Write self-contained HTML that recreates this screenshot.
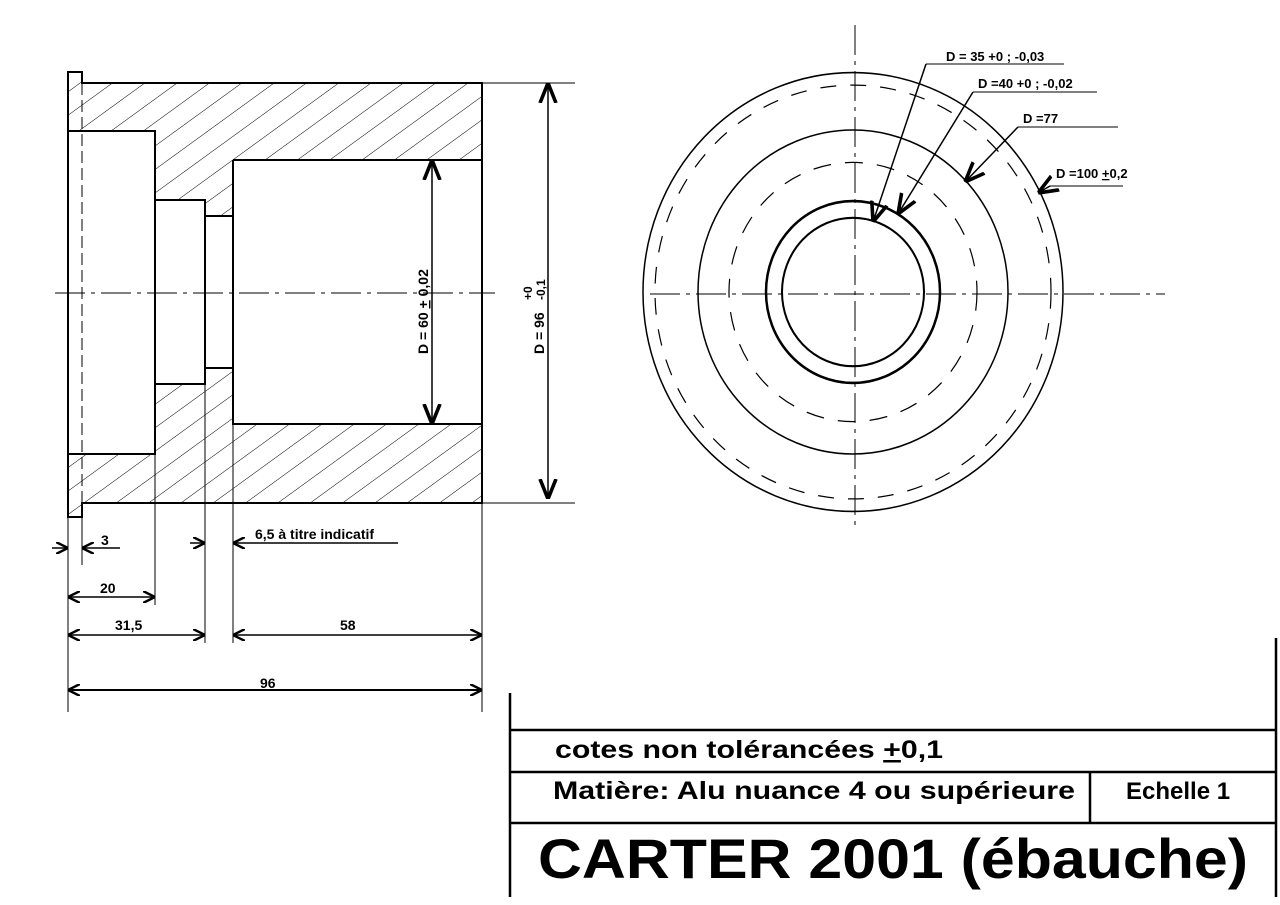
<!DOCTYPE html>
<html><head><meta charset="utf-8"><style>html,body{margin:0;padding:0;background:#fff}svg{display:block}</style></head>
<body>
<svg width="1280" height="905" viewBox="0 0 1280 905" xmlns="http://www.w3.org/2000/svg" font-family="Liberation Sans, Arial, sans-serif">
<defs>
<pattern id="h" patternUnits="userSpaceOnUse" width="19" height="19" patternTransform="rotate(54)">
<line x1="0" y1="0" x2="0" y2="19" stroke="#000" stroke-width="1"/>
</pattern>
<marker id="a" viewBox="0 0 10 10" refX="10" refY="5" markerWidth="12" markerHeight="12" markerUnits="userSpaceOnUse" orient="auto-start-reverse"><path d="M0,0 L10,5 L0,10" fill="none" stroke="#000" stroke-width="2"/></marker>
<marker id="b" viewBox="0 0 10 10" refX="10" refY="5" markerWidth="20" markerHeight="20" markerUnits="userSpaceOnUse" orient="auto-start-reverse"><path d="M0,1 L10,5 L0,9" fill="none" stroke="#000" stroke-width="1.8"/></marker>
</defs>
<path fill="url(#h)" fill-rule="evenodd" d="M68,72 H82 V83 H482 V503 H82 V517 H68 Z M68,131 H155 V200 H205 V216 H233 V160 H482 V424 H233 V368 H205 V384 H155 V454 H68 Z"/>
<g stroke="#000" stroke-width="2" fill="none">
<path d="M68,72 H82 V83 H482 V503 H82 V517 H68 Z"/>
<path d="M68,131 H155 V454 H68"/>
<path d="M155,200 H205 V384 H155"/>
<path d="M205,216 H233 M205,368 H233"/>
<path d="M233,160 H482 M233,160 V424 H482"/>
</g>
<g stroke="#000" stroke-width="1" fill="none">
<line x1="82" y1="83" x2="82" y2="517" stroke-dasharray="12,5"/>
<line x1="55" y1="293" x2="495" y2="293" stroke-dasharray="30,6,4,6"/>
<line x1="482" y1="83" x2="575" y2="83"/><line x1="482" y1="503" x2="575" y2="503"/>
<line x1="68" y1="517" x2="68" y2="712"/>
<line x1="82" y1="517" x2="82" y2="565"/>
<line x1="155" y1="454" x2="155" y2="605"/>
<line x1="205" y1="384" x2="205" y2="643"/>
<line x1="233" y1="424" x2="233" y2="643"/>
<line x1="482" y1="503" x2="482" y2="712"/>
<line x1="548" y1="83" x2="548" y2="499" marker-start="url(#b)" marker-end="url(#b)" stroke-width="1.5"/>
<line x1="432" y1="160" x2="432" y2="424" marker-start="url(#b)" marker-end="url(#b)" stroke-width="1.5"/>
<line x1="52" y1="548" x2="68" y2="548" marker-end="url(#a)" stroke-width="1.5"/>
<line x1="120" y1="548" x2="82" y2="548" marker-end="url(#a)" stroke-width="1.5"/>
<line x1="190" y1="543" x2="205" y2="543" marker-end="url(#a)" stroke-width="1.5"/>
<line x1="398" y1="543" x2="233" y2="543" marker-end="url(#a)" stroke-width="1.5"/>
<line x1="68" y1="597" x2="155" y2="597" marker-start="url(#a)" marker-end="url(#a)" stroke-width="1.5"/>
<line x1="68" y1="635" x2="205" y2="635" marker-start="url(#a)" marker-end="url(#a)" stroke-width="1.5"/>
<line x1="233" y1="635" x2="482" y2="635" marker-start="url(#a)" marker-end="url(#a)" stroke-width="1.5"/>
<line x1="68" y1="690" x2="482" y2="690" marker-start="url(#a)" marker-end="url(#a)" stroke-width="2"/>
</g>
<g font-size="14" font-weight="bold">
<text x="101" y="545">3</text>
<text x="100" y="593">20</text>
<text x="115" y="630">31,5</text>
<text x="340" y="630">58</text>
<text x="260" y="688">96</text>
<text x="255" y="539">6,5 à titre indicatif</text>
<text transform="translate(428,354) rotate(-90)">D = 60 <tspan text-decoration="underline">+</tspan> 0,02</text>
<text transform="translate(544,354) rotate(-90)">D = 96</text>
<text transform="translate(532,300) rotate(-90)" font-size="12">+0</text>
<text transform="translate(545,300) rotate(-90)" font-size="12">-0,1</text>
</g>
<g stroke="#000" fill="none" transform="translate(853,292) scale(1,1.045)">
<circle r="210" stroke-width="1.5"/>
<circle r="198" stroke-width="1.2" stroke-dasharray="16,14"/>
<circle r="155" stroke-width="1.5"/>
<circle r="124" stroke-width="1.2" stroke-dasharray="18,14"/>
<circle r="87" stroke-width="2.5"/>
<circle r="71" stroke-width="2"/>
</g>
<g stroke="#000" stroke-width="1" fill="none">
<line x1="855" y1="25" x2="855" y2="530" stroke-dasharray="30,6,4,6"/>
<line x1="650" y1="294" x2="1165" y2="294" stroke-dasharray="30,6,4,6"/>
<line x1="926" y1="64" x2="1064" y2="64"/><line x1="926" y1="64" x2="873" y2="222" marker-end="url(#b)" stroke-width="1.5"/>
<line x1="973" y1="92" x2="1097" y2="92"/><line x1="973" y1="92" x2="898" y2="214" marker-end="url(#b)" stroke-width="1.5"/>
<line x1="1018" y1="127" x2="1118" y2="127"/><line x1="1018" y1="127" x2="965" y2="182" marker-end="url(#b)" stroke-width="1.5"/>
<line x1="1050" y1="186" x2="1123" y2="186"/><line x1="1050" y1="186" x2="1038" y2="193" marker-end="url(#b)" stroke-width="1.5"/>
</g>
<g font-size="13" font-weight="bold">
<text x="946" y="61">D = 35 +0 ; -0,03</text>
<text x="978" y="88">D =40 +0 ; -0,02</text>
<text x="1023" y="123">D =77</text>
<text x="1056" y="178">D =100 <tspan text-decoration="underline">+</tspan>0,2</text>
</g>
<g stroke="#000" stroke-width="2.5" fill="none">
<line x1="510" y1="693" x2="510" y2="897"/>
<line x1="1276" y1="638" x2="1276" y2="897"/>
<line x1="510" y1="730" x2="1276" y2="730"/>
<line x1="510" y1="772" x2="1276" y2="772"/>
<line x1="510" y1="823" x2="1276" y2="823"/>
<line x1="1090" y1="772" x2="1090" y2="823"/>
</g>
<text x="555" y="758" font-size="25" font-weight="bold" textLength="388" lengthAdjust="spacingAndGlyphs">cotes non tolérancées <tspan text-decoration="underline">+</tspan>0,1</text>
<text x="553" y="799" font-size="25" font-weight="bold" textLength="522" lengthAdjust="spacingAndGlyphs">Matière: Alu nuance 4 ou supérieure</text>
<text x="1126" y="799" font-size="24" font-weight="bold">Echelle 1</text>
<text x="538" y="878" font-size="56" font-weight="bold" textLength="710" lengthAdjust="spacingAndGlyphs">CARTER 2001 (ébauche)</text>
</svg>
</body></html>
